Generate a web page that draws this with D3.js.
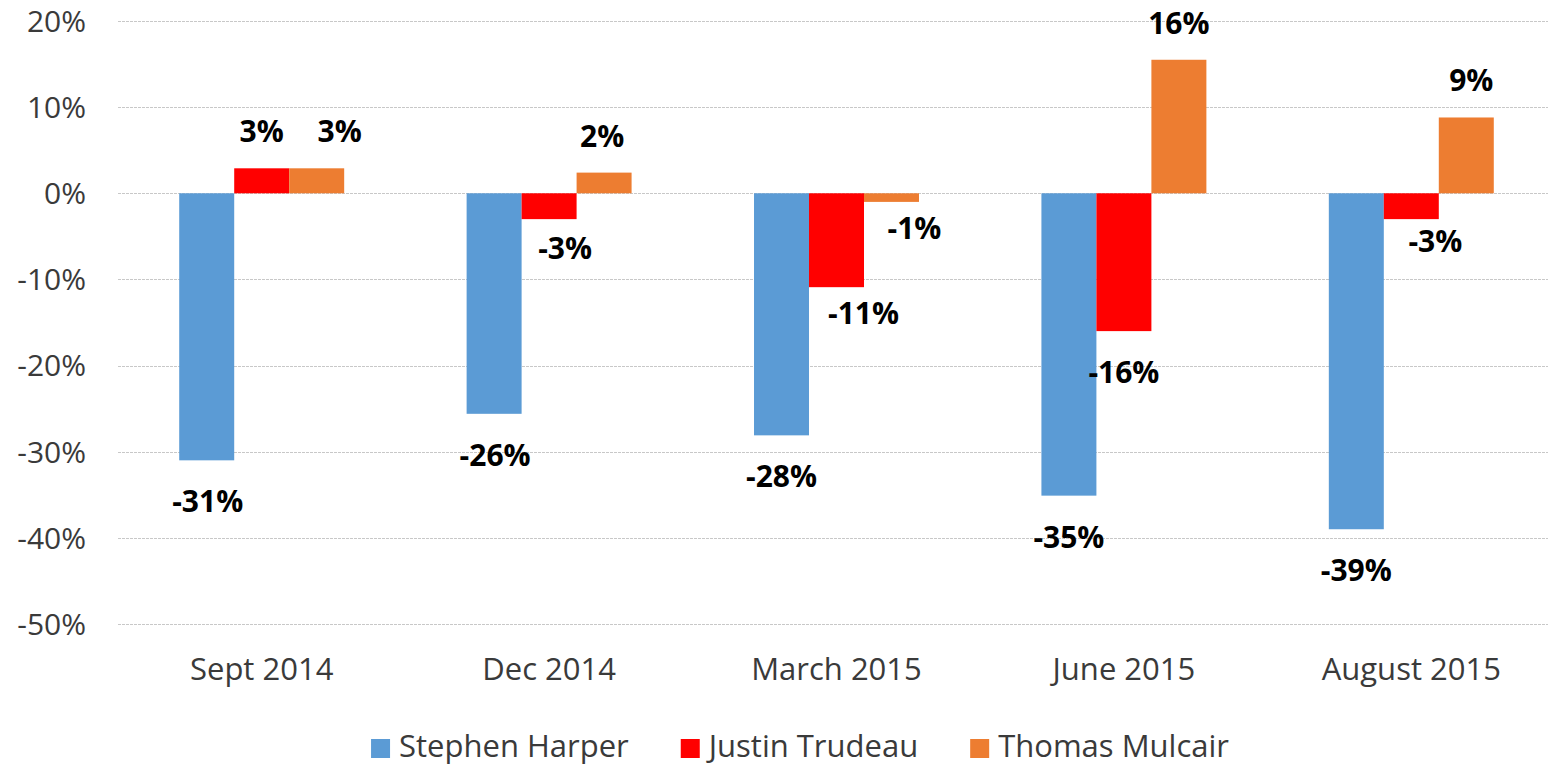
<!DOCTYPE html>
<meta charset="utf-8">
<html lang="en">
<head>
    <title>Approval change by leader</title>
    <script src="https://d3js.org/d3.v7.min.js"></script>
    <style>
        body { margin: 0; background: #fff; }
        svg { display: block; font-family: "Open Sans", "Liberation Sans", sans-serif; }
        .grid line { stroke: #c8c8c8; stroke-width: 1; stroke-dasharray: 3,1; }
        .tick-label { font-size: 30px; fill: #3a3a3a; }
        .cat-label { font-size: 31px; fill: #3a3a3a; }
        .bar-label { font-size: 30px; font-weight: bold; fill: #000; }
        .legend-text { font-size: 31px; fill: #3a3a3a; }
    </style>
</head>
<body>
<div id="chart"></div>
<script>

// categories and series
var categories = ["Sept 2014", "Dec 2014", "March 2015", "June 2015", "August 2015"];
var seriesNames = ["Stephen Harper", "Justin Trudeau", "Thomas Mulcair"];
var seriesColors = ["#5B9BD5", "#FF0000", "#ED7D31"];

// values (percent change)
var harper  = [-31.0, -25.6, -28.1, -35.1, -39.0];
var trudeau = [2.9, -3.0, -10.9, -16.0, -3.0];
var mulcair = [2.9, 2.4, -1.0, 15.5, 8.8];

// y axis ticks
var yTicks = [-50, -40, -30, -20, -10, 0, 10, 20];

// hand-placed data labels in the original, pixel nudges [dx, dy]
var labelNudge = [
    [[1, 0], [1, 0], [0, 0], [0, 0], [0, 0]],
    [[0, 0], [16, -12], [27, -15], [0, 0], [24, -19]],
    [[23, 0], [-2, 0], [23, -15], [0, 0], [5, 0]]
];

var width = 1548, height = 765;
var plot = {left: 118, right: 1555, top: 21, bottom: 624};

var svg = d3.select("#chart")
    .append("svg")
        .attr("width", width)
        .attr("height", height);

// scales
var x0 = d3.scaleBand()
    .domain(categories)
    .range([plot.left, plot.right])
    .paddingInner(0.426)
    .paddingOuter(0.213);

var x1 = d3.scaleBand()
    .domain(seriesNames)
    .range([0, x0.bandwidth()]);

var y = d3.scaleLinear()
    .domain([-50, 20])
    .range([plot.bottom, plot.top]);

// gridlines
svg.append("g")
    .attr("class", "grid")
    .selectAll("line")
    .data(yTicks)
    .enter()
    .append("line")
        .attr("x1", plot.left)
        .attr("x2", width)
        .attr("y1", function(d) { return Math.round(y(d)) + 0.5; })
        .attr("y2", function(d) { return Math.round(y(d)) + 0.5; });

// y tick labels
svg.append("g")
    .selectAll("text")
    .data(yTicks)
    .enter()
    .append("text")
        .attr("class", "tick-label")
        .attr("x", 86)
        .attr("y", function(d) { return y(d); })
        .attr("dy", "0.36em")
        .attr("text-anchor", "end")
        .text(function(d) { return d + "%"; });

// category labels
svg.append("g")
    .selectAll("text")
    .data(categories)
    .enter()
    .append("text")
        .attr("class", "cat-label")
        .attr("x", function(d) { return x0(d) + x0.bandwidth() / 2; })
        .attr("y", 680)
        .attr("text-anchor", "middle")
        .text(function(d) { return d; });

// build rows for the bars
var values = [harper, trudeau, mulcair];
var rows = [];
seriesNames.forEach(function(s, si) {
    categories.forEach(function(c, ci) {
        rows.push({series: s, si: si, cat: c, ci: ci, value: values[si][ci]});
    });
});

// bars
svg.append("g")
    .selectAll("rect")
    .data(rows)
    .enter()
    .append("rect")
        .attr("x", function(d) { return x0(d.cat) + x1(d.series); })
        .attr("width", x1.bandwidth())
        .attr("y", function(d) { return y(Math.max(0, d.value)); })
        .attr("height", function(d) { return Math.abs(y(d.value) - y(0)); })
        .style("fill", function(d) { return seriesColors[d.si]; });

// data labels
svg.append("g")
    .selectAll("text")
    .data(rows)
    .enter()
    .append("text")
        .attr("class", "bar-label")
        .attr("text-anchor", "middle")
        .attr("x", function(d) {
            return x0(d.cat) + x1(d.series) + x1.bandwidth() / 2 + labelNudge[d.si][d.ci][0];
        })
        .attr("y", function(d) {
            var base = d.value >= 0 ? y(d.value) - 26 : y(d.value) + 52;
            return base + labelNudge[d.si][d.ci][1];
        })
        .text(function(d) { return Math.round(d.value) + "%"; });

// legend, centred under the chart
var legend = svg.append("g");
var lx = 0;
seriesNames.forEach(function(s, i) {
    var item = legend.append("g").attr("transform", "translate(" + lx + ",0)");
    item.append("rect")
        .attr("x", 0)
        .attr("y", 739)
        .attr("width", 19)
        .attr("height", 19)
        .style("fill", seriesColors[i]);
    var t = item.append("text")
        .attr("class", "legend-text")
        .attr("x", 28)
        .attr("y", 757)
        .text(s);
    lx += 28 + t.node().getComputedTextLength() + 52;
});
var legendW = lx - 52;
legend.attr("transform", "translate(" + (800 - legendW / 2) + ",0)");

</script>
</body>
</html>
